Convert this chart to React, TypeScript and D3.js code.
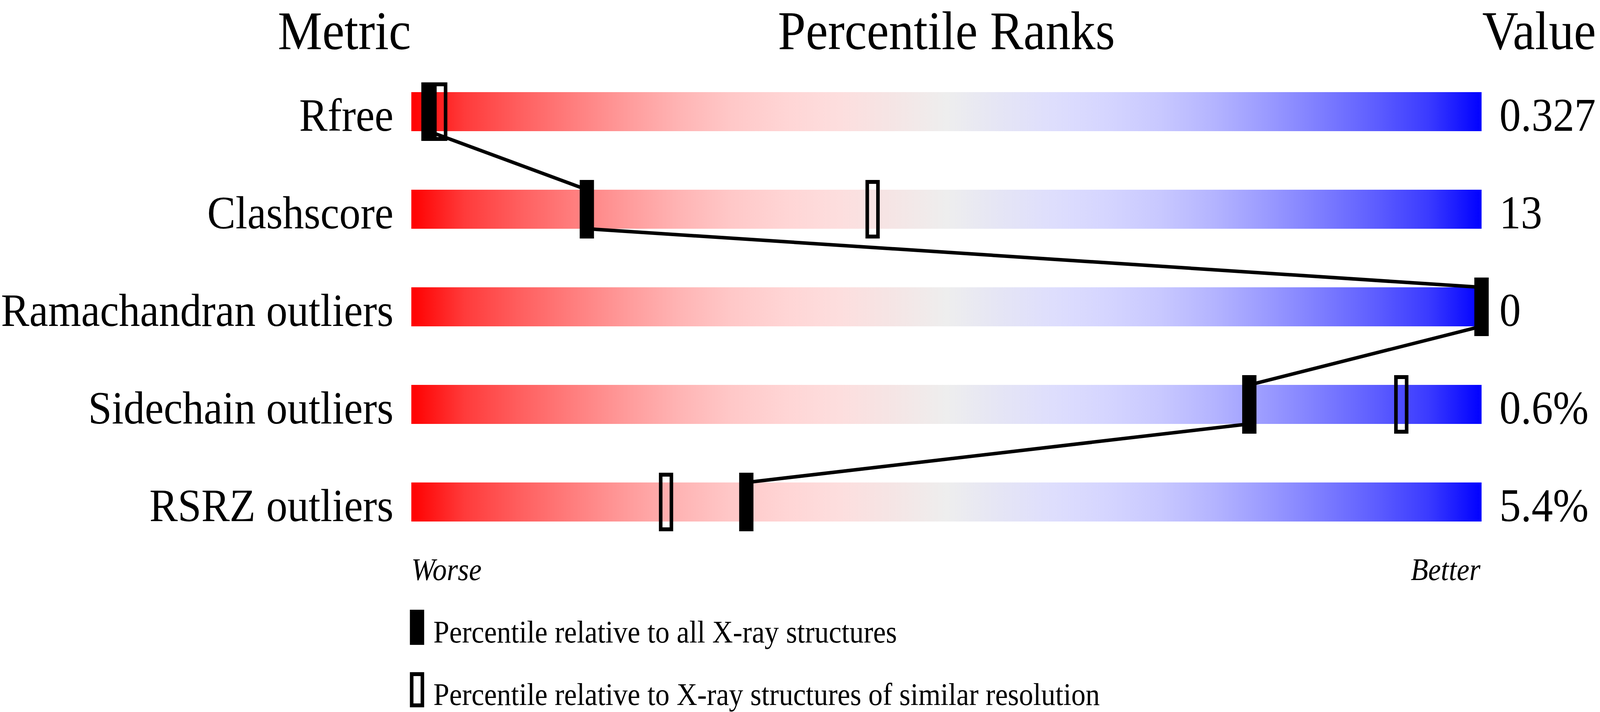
import React from "react";
import * as d3 from "d3";

const metrics = ["Rfree", "Clashscore", "Ramachandran outliers", "Sidechain outliers", "RSRZ outliers"];
const valueLabels = ["0.327", "13", "0", "0.6%", "5.4%"];
const pctAll = [1.6, 16.4, 100, 78.3, 31.3];
const pctSimilar = [2.7, 43.1, 100, 92.5, 23.8];
const headers = ["Metric", "Percentile Ranks", "Value"];
const axisEnds = ["Worse", "Better"];
const legendLabels = [
  "Percentile relative to all X-ray structures",
  "Percentile relative to X-ray structures of similar resolution",
];
const gradientStops: [number, string][] = [
  [0, "#ff0000"], [5, "#ff3b3b"], [10, "#ff5e5e"], [15, "#ff7d7d"], [20, "#ff9a9a"],
  [25, "#ffb4b4"], [30, "#ffc8c8"], [35, "#ffd5d5"], [40, "#fddede"], [45, "#f5e5e5"],
  [50, "#eeeeee"], [55, "#e5e5f5"], [60, "#dedefd"], [65, "#d5d5ff"], [70, "#c8c8ff"],
  [75, "#b4b4ff"], [80, "#9a9aff"], [85, "#7d7dff"], [90, "#5e5eff"], [95, "#3b3bff"],
  [100, "#0000ff"],
];

const W = 4485;
const H = 1824;
const FONT = "'Liberation Serif', 'Times New Roman', Times, serif";

export default function App() {
  const x = d3.scaleLinear().domain([0, 100]).range([1153, 4153]);
  const y = d3.scaleBand<string>().domain(metrics).range([236, 1336]).paddingInner(0.6).paddingOuter(0);
  const bw = y.bandwidth();

  const pts: [number, number][] = [];
  metrics.forEach((m, i) => {
    const top = y(m)!;
    pts.push([x(pctAll[i]), top]);
    pts.push([x(pctAll[i]), top + bw]);
  });
  const linePath = d3.line()(pts) || "";

  const marker = (cx: number, top: number, filled: boolean, key: string) => (
    <rect
      key={key}
      x={cx - 15}
      y={top - 20}
      width={30}
      height={bw + 40}
      fill={filled ? "#000" : "none"}
      stroke="#000"
      strokeWidth={10}
    />
  );

  const headerY = 126;

  return (
    <div style={{ position: "fixed", left: 0, top: 0, width: "100vw", height: "100vh", overflow: "hidden", background: "#fff" }}>
      <svg
        width="100%"
        height="100%"
        viewBox={`0 0 ${W} ${H}`}
        preserveAspectRatio="none"
        style={{ display: "block" }}
        fontFamily={FONT}
      >
        <defs>
          <linearGradient id="rank" gradientUnits="userSpaceOnUse" x1={x(0)} x2={x(100)} y1={0} y2={0}>
            {gradientStops.map(([o, c]) => (
              <stop key={o} offset={`${o}%`} stopColor={c} />
            ))}
          </linearGradient>
        </defs>
        <rect width={W} height={H} fill="#fff" />

        <text x={1152} y={headerY} fontSize={140} textAnchor="end">{headers[0]}</text>
        <text x={(x(0) + x(100)) / 2} y={headerY} fontSize={140} textAnchor="middle">{headers[1]}</text>
        <text x={4155} y={headerY} fontSize={140} textAnchor="start">{headers[2]}</text>

        {metrics.map((m, i) => (
          <g key={m}>
            <rect x={x(0)} y={y(m)!} width={x(100) - x(0)} height={bw} fill="url(#rank)" />
            <text x={x(0) - 50} y={y(m)! + bw - 1} fontSize={119} textAnchor="end">{m}</text>
            <text x={x(100) + 50} y={y(m)! + bw - 1} fontSize={120} textAnchor="start">{valueLabels[i]}</text>
          </g>
        ))}

        <path d={linePath} fill="none" stroke="#000" strokeWidth={9} strokeLinejoin="miter" />

        {metrics.map((m, i) => marker(x(pctSimilar[i]), y(m)!, false, "s" + m))}
        {metrics.map((m, i) => marker(x(pctAll[i]), y(m)!, true, "a" + m))}

        <text x={x(0)} y={1486} fontSize={80} fontStyle="italic" textAnchor="start">{axisEnds[0]}</text>
        <text x={x(100) - 3} y={1486} fontSize={80} fontStyle="italic" textAnchor="end">{axisEnds[1]}</text>

        <rect x={1154} y={1567} width={30} height={80} fill="#000" stroke="#000" strokeWidth={10} />
        <text x={1215} y={1646} fontSize={80}>{legendLabels[0]}</text>
        <rect x={1154} y={1727} width={30} height={80} fill="none" stroke="#000" strokeWidth={10} />
        <text x={1215} y={1806} fontSize={80}>{legendLabels[1]}</text>
      </svg>
    </div>
  );
}
